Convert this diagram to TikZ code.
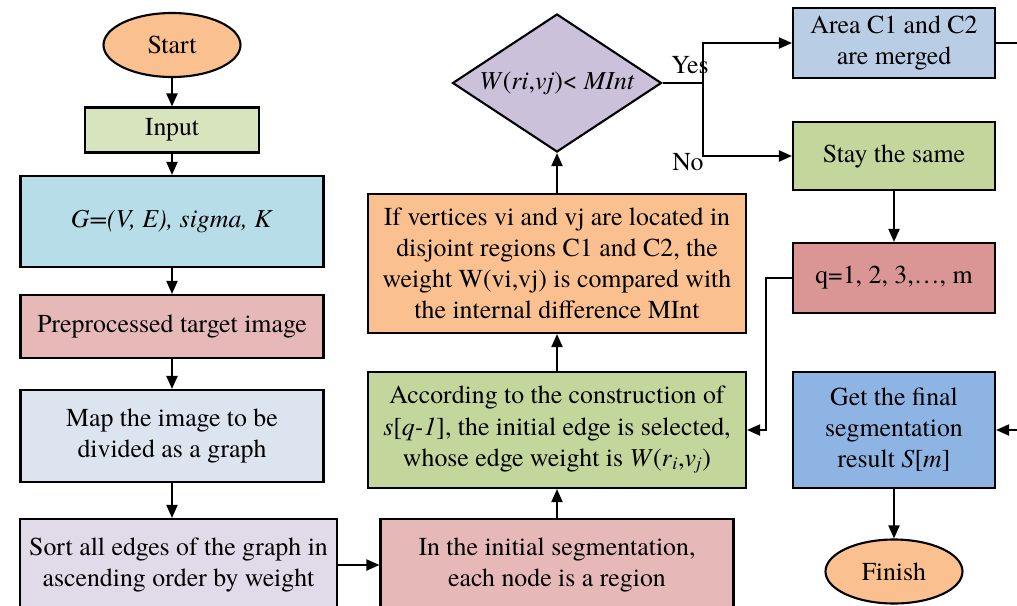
\documentclass[tikz,border=0pt]{standalone}
\usepackage{fontspec}
\setmainfont{texgyretermes}[Extension=.otf, UprightFont=*-regular, ItalicFont=*-italic,
    BoldFont=*-bold, BoldItalicFont=*-bolditalic]
\usetikzlibrary{shapes.geometric,arrows.meta}
\definecolor{TermOrange}{HTML}{FAC090}
\definecolor{InputGreen}{HTML}{D7E4BD}
\definecolor{GraphAqua}{HTML}{B7DEE8}
\definecolor{PrepRed}{HTML}{E6B9B8}
\definecolor{MapBlue}{HTML}{DCE4F0}
\definecolor{SortPurple}{HTML}{E0DAE9}
\definecolor{StepGreen}{HTML}{C3D69B}
\definecolor{CondPurple}{HTML}{CCC1DA}
\definecolor{MergeBlue}{HTML}{B9CDE5}
\definecolor{LoopRed}{HTML}{D99694}
\definecolor{FinalBlue}{HTML}{8EB4E3}

\begin{document}
\begin{tikzpicture}[
    box/.style={draw, line width=1.2pt, rectangle, align=center, inner sep=2pt,
        font=\fontsize{14.7}{17.7}\selectfont},
    term/.style={box, ellipse, fill=TermOrange, minimum width=2.74cm, minimum height=1.28cm},
    arr/.style={-{Triangle[length=2.6mm,width=2.2mm]}, line width=1.1pt},
    wire/.style={line width=1.1pt}
]
    \useasboundingbox (0,0) rectangle (20.34,-12.12);
    \clip (0,0) rectangle (20.34,-12.12);

    % Left column
    \node[term] (start) at (3.44,-0.90) {Start};
    \node[box, fill=InputGreen, minimum width=3.48cm, minimum height=0.90cm] (input) at (3.44,-2.60) {Input};
    \node[box, fill=GraphAqua, minimum width=6.06cm, minimum height=1.82cm] (graph) at (3.44,-4.43)
        {\textit{G=(V, E), sigma, K}};
    \node[box, fill=PrepRed, minimum width=6.06cm, minimum height=1.26cm] (prep) at (3.44,-6.53)
        {Preprocessed target image};
    \node[box, fill=MapBlue, minimum width=6.06cm, minimum height=1.84cm] (map) at (3.44,-8.72)
        {Map the image to be\\divided as a graph};
    \node[box, fill=SortPurple, minimum width=6.34cm, minimum height=1.84cm] (sort) at (3.57,-11.30)
        {Sort all edges of the graph in\\ascending order by weight};

    % Middle column
    \node[box, fill=PrepRed, minimum width=7.06cm, minimum height=1.84cm] (init) at (11.14,-11.30)
        {In the initial segmentation,\\each node is a region};
    \node[box, fill=StepGreen, minimum width=7.56cm, minimum height=2.32cm] (select) at (11.14,-8.60)
        {According to the construction of\\\textit{s}[\textit{q-1}], the initial edge is selected,\\whose edge weight is \textit{W}(\textit{r}\textsubscript{\textit{i}},\textit{v}\textsubscript{\textit{j}})};
    \node[box, fill=TermOrange, minimum width=7.56cm, minimum height=2.78cm] (compare) at (11.14,-5.27)
        {If vertices vi and vj are located in\\disjoint regions C1 and C2, the\\weight W(vi,vj) is compared with\\the internal difference MInt};
    \node[box, diamond, aspect=1.5, fill=CondPurple, inner sep=0pt, minimum width=4.18cm, minimum height=2.76cm] (cond) at (11.14,-1.66)
        {\textit{W}(\textit{ri},\textit{vj})< \textit{MInt}};

    % Right column
    \node[box, fill=MergeBlue, minimum width=4.04cm, minimum height=1.40cm] (merged) at (17.88,-0.86)
        {Area C1 and C2\\are merged};
    \node[box, fill=StepGreen, minimum width=4.04cm, minimum height=1.36cm] (same) at (17.88,-3.12)
        {Stay the same};
    \node[box, fill=LoopRed, minimum width=4.04cm, minimum height=1.40cm] (loopq) at (17.88,-5.56)
        {q=1, 2, 3,…, m};
    \node[box, fill=FinalBlue, minimum width=4.04cm, minimum height=2.32cm] (final) at (17.88,-8.60)
        {Get the final\\segmentation\\result \textit{S}[\textit{m}]};
    \node[term] (finish) at (17.88,-11.43) {Finish};

    % Branch labels
    \node[font=\fontsize{14.7}{17.7}\selectfont] (yes) at (13.80,-1.30) {Yes};
    \node[font=\fontsize{14.7}{17.7}\selectfont] (no) at (13.76,-3.24) {No};

    % Helper points
    \coordinate (split) at (14.06,-1.66);
    \coordinate (back) at (15.32,-5.56);
    \coordinate (outR) at (20.34,-0.86);
    \coordinate (inR) at (20.34,-8.60);

    % Connectors
    \draw[arr] (start) -- (input);
    \draw[arr] (input) -- (graph);
    \draw[arr] (graph) -- (prep);
    \draw[arr] (prep) -- (map);
    \draw[arr] (map.south) -- (map.south |- sort.north);
    \draw[arr] (sort) -- (init);
    \draw[arr] (init) -- (select);
    \draw[arr] (select) -- (compare);
    \draw[arr] (compare) -- (cond);
    \draw[wire] (cond.east) -- (split);
    \draw[arr] (split) |- (merged.west);
    \draw[arr] (split) |- (same.west);
    \draw[wire] (merged.east) -- (outR);
    \draw[arr] (same) -- (loopq);
    \draw[arr] (loopq.west) -- (back) |- (select.east);
    \draw[arr] (inR) -- (final);
    \draw[arr] (final) -- (finish);
\end{tikzpicture}
\end{document}
